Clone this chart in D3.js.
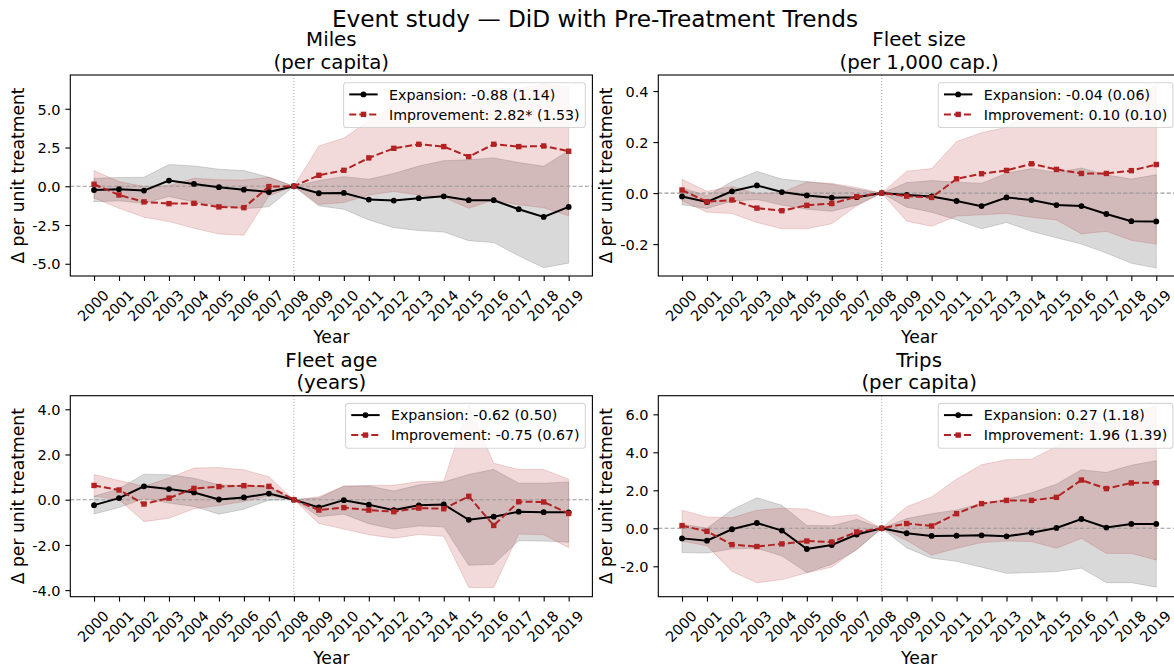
<!DOCTYPE html>
<html>
<head>
<meta charset="utf-8">
<script src="https://cdn.jsdelivr.net/npm/d3@7"></script>
<style>
  body { margin: 0; background: #fff; }
  text { font-family: "DejaVu Sans", sans-serif; }
</style>
</head>
<body>
<svg id="chart" width="1174" height="668"></svg>
<script>
// ---- data -------------------------------------------------------------
const years = [2000, 2001, 2002, 2003, 2004, 2005, 2006, 2007, 2008, 2009,
               2010, 2011, 2012, 2013, 2014, 2015, 2016, 2017, 2018, 2019];
const treatYear = 2008;

// Miles (per capita)
const milesExp   = [-0.24, -0.19, -0.28, 0.37, 0.15, -0.06, -0.22, -0.37, 0, -0.45, -0.43, -0.86, -0.92, -0.77, -0.65, -0.90, -0.90, -1.48, -1.98, -1.33];
const milesExpLo = [-1.00, -0.94, -1.10, -0.66, -1.01, -1.22, -1.45, -1.32, 0, -1.27, -1.48, -2.17, -2.67, -2.86, -2.95, -3.51, -3.63, -4.49, -5.25, -4.96];
const milesExpHi = [0.52, 0.56, 0.58, 1.40, 1.31, 1.10, 1.01, 0.58, 0, 0.37, 0.62, 0.45, 0.83, 1.30, 1.65, 1.71, 1.83, 1.53, 1.29, 2.30];
const milesImp   = [0.13, -0.56, -1.01, -1.12, -1.10, -1.33, -1.38, -0.02, 0, 0.71, 1.03, 1.83, 2.45, 2.71, 2.56, 1.91, 2.71, 2.56, 2.60, 2.26];
const milesImpLo = [-0.75, -1.42, -2.00, -2.28, -2.71, -3.08, -3.16, -0.62, 0, -1.18, -1.05, -0.56, -0.34, -0.56, -0.71, -1.42, -0.88, -1.20, -1.38, -1.91];
const milesImpHi = [1.01, 0.30, -0.02, 0.04, 0.51, 0.42, 0.40, 0.58, 0, 2.60, 3.11, 4.22, 5.24, 5.98, 5.83, 5.24, 6.30, 6.32, 6.58, 6.43];

// Fleet size (per 1,000 cap.)
const fleetExp   = [-0.013, -0.035, 0.007, 0.030, 0.004, -0.009, -0.018, -0.016, 0, -0.007, -0.013, -0.031, -0.051, -0.017, -0.027, -0.047, -0.051, -0.082, -0.110, -0.111];
const fleetExpLo = [-0.046, -0.060, -0.031, -0.025, -0.047, -0.063, -0.071, -0.047, 0, -0.055, -0.075, -0.105, -0.140, -0.115, -0.150, -0.175, -0.200, -0.235, -0.275, -0.294];
const fleetExpHi = [0.020, -0.010, 0.045, 0.085, 0.055, 0.045, 0.035, 0.015, 0, 0.041, 0.049, 0.043, 0.038, 0.078, 0.096, 0.081, 0.098, 0.071, 0.055, 0.072];
const fleetImp   = [0.012, -0.034, -0.027, -0.059, -0.069, -0.048, -0.041, -0.014, 0, -0.012, -0.017, 0.056, 0.076, 0.089, 0.115, 0.093, 0.077, 0.077, 0.088, 0.112];
const fleetImpLo = [-0.030, -0.075, -0.080, -0.115, -0.140, -0.140, -0.120, -0.050, 0, -0.110, -0.130, -0.090, -0.085, -0.080, -0.095, -0.105, -0.160, -0.150, -0.185, -0.200];
const fleetImpHi = [0.054, 0.007, 0.026, -0.003, 0.002, 0.044, 0.038, 0.022, 0, 0.086, 0.096, 0.202, 0.237, 0.258, 0.325, 0.291, 0.314, 0.304, 0.361, 0.424];

// Fleet age (years)
const ageExp   = [-0.24, 0.07, 0.59, 0.47, 0.32, 0.01, 0.10, 0.27, 0, -0.34, -0.02, -0.22, -0.46, -0.25, -0.21, -0.89, -0.75, -0.53, -0.55, -0.56];
const ageExpLo = [-0.63, -0.35, 0.05, -0.15, -0.30, -0.64, -0.42, -0.02, 0, -0.75, -0.64, -1.06, -1.30, -1.16, -1.20, -2.90, -2.86, -1.81, -1.83, -1.88];
const ageExpHi = [0.15, 0.49, 1.13, 1.10, 0.95, 0.66, 0.62, 0.56, 0, 0.07, 0.60, 0.61, 0.38, 0.65, 0.78, 1.12, 1.34, 0.73, 0.73, 0.78];
const ageImp   = [0.63, 0.43, -0.19, 0.07, 0.50, 0.58, 0.62, 0.59, 0, -0.46, -0.35, -0.46, -0.53, -0.37, -0.40, 0.15, -1.14, -0.09, -0.10, -0.61];
const ageImpLo = [0.15, 0.01, -0.97, -0.82, -0.40, -0.26, -0.08, 0.16, 0, -1.05, -1.30, -1.55, -1.70, -1.54, -1.62, -3.88, -3.89, -1.52, -1.55, -2.12];
const ageImpHi = [1.11, 0.85, 0.59, 0.96, 1.40, 1.42, 1.32, 1.02, 0, 0.13, 0.60, 0.63, 0.64, 0.80, 0.82, 4.18, 1.61, 1.34, 1.34, 0.90];

// Trips (per capita)
const tripsExp   = [-0.53, -0.65, -0.05, 0.28, -0.12, -1.09, -0.88, -0.33, 0, -0.26, -0.40, -0.39, -0.37, -0.42, -0.23, 0.02, 0.49, 0.04, 0.23, 0.23];
const tripsExpLo = [-1.28, -1.30, -1.08, -1.05, -1.45, -2.33, -1.89, -1.13, 0, -1.03, -1.57, -1.74, -2.05, -2.37, -2.33, -2.28, -2.10, -2.86, -2.86, -3.10];
const tripsExpHi = [0.22, 0.00, 0.98, 1.61, 1.21, 0.15, 0.13, 0.47, 0, 0.51, 0.77, 0.96, 1.31, 1.53, 1.87, 2.32, 3.08, 2.94, 3.32, 3.56];
const tripsImp   = [0.14, -0.16, -0.86, -0.96, -0.82, -0.67, -0.72, -0.19, 0, 0.25, 0.12, 0.77, 1.30, 1.47, 1.47, 1.63, 2.54, 2.09, 2.39, 2.40];
const tripsImpLo = [-0.67, -0.92, -2.27, -2.87, -2.70, -2.35, -2.04, -1.10, 0, -0.64, -1.41, -1.05, -0.75, -0.67, -0.70, -1.05, -0.53, -1.32, -1.32, -1.67];
const tripsImpHi = [0.95, 0.60, 0.55, 0.95, 1.06, 1.01, 0.60, 0.72, 0, 1.14, 1.65, 2.59, 3.35, 3.61, 3.64, 4.31, 5.61, 5.50, 6.10, 6.47];

// tick values and axis ranges
const milesTicks = [-5, -2.5, 0, 2.5, 5];
const fleetTicks = [-0.2, 0, 0.2, 0.4];
const ageTicks   = [-4, -2, 0, 2, 4];
const tripsTicks = [-2, 0, 2, 4, 6];
const milesRange = [-5.79, 7.18];
const fleetRange = [-0.325, 0.463];
const ageRange   = [-4.29, 4.6];
const tripsRange = [-3.6, 6.98];

// titles and legend labels
const suptitle = "Event study \u2014 DiD with Pre-Treatment Trends";
const panelTitles = [["Miles", "(per capita)"], ["Fleet size", "(per 1,000 cap.)"],
                     ["Fleet age", "(years)"], ["Trips", "(per capita)"]];
const legendLabels = [
  ["Expansion: -0.88 (1.14)", "Improvement: 2.82* (1.53)"],
  ["Expansion: -0.04 (0.06)", "Improvement: 0.10 (0.10)"],
  ["Expansion: -0.62 (0.50)", "Improvement: -0.75 (0.67)"],
  ["Expansion: 0.27 (1.18)", "Improvement: 1.96 (1.39)"]
];
const yLabel = "\u0394 per unit treatment";
const xLabel = "Year";

// ---- layout -----------------------------------------------------------
const panels = [
  { exp: milesExp, expLo: milesExpLo, expHi: milesExpHi, imp: milesImp, impLo: milesImpLo, impHi: milesImpHi, range: milesRange, ticks: milesTicks },
  { exp: fleetExp, expLo: fleetExpLo, expHi: fleetExpHi, imp: fleetImp, impLo: fleetImpLo, impHi: fleetImpHi, range: fleetRange, ticks: fleetTicks },
  { exp: ageExp, expLo: ageExpLo, expHi: ageExpHi, imp: ageImp, impLo: ageImpLo, impHi: ageImpHi, range: ageRange, ticks: ageTicks },
  { exp: tripsExp, expLo: tripsExpLo, expHi: tripsExpHi, imp: tripsImp, impLo: tripsImpLo, impHi: tripsImpHi, range: tripsRange, ticks: tripsTicks }
];
const cols = [[70.3, 592.4], [658.3, 1180]];
const rows = [[75, 276], [395.7, 596.7]];

const RED = "#b22222";
const GREY = "#808080";
const TICK = 4.9, PAD = 4.9;
const TICK_FONT = 14.5;
const fmt = d3.formatLocale({ decimal: ".", thousands: ",", grouping: [3], currency: ["", ""], minus: "-" }).format(".1f");

const svg = d3.select("#chart");
svg.append("rect").attr("width", 1174).attr("height", 668).attr("fill", "#fff");
const defs = svg.append("defs");

svg.append("text")
  .attr("x", 595).attr("y", 26.5)
  .attr("text-anchor", "middle")
  .attr("font-size", 23.2)
  .attr("fill", "#000")
  .text(suptitle);

panels.forEach((p, i) => {
  const [x0, x1] = cols[i % 2];
  const [y0, y1] = rows[Math.floor(i / 2)];
  const x = d3.scaleLinear().domain([1999.05, 2019.95]).range([x0, x1]);
  const y = d3.scaleLinear().domain(p.range).range([y1, y0]);

  const g = svg.append("g");
  const clipId = "clip-" + i;
  defs.append("clipPath").attr("id", clipId)
    .append("rect").attr("x", x0).attr("y", y0).attr("width", x1 - x0).attr("height", y1 - y0);
  const plot = g.append("g").attr("clip-path", `url(#${clipId})`);

  const band = (lo, hi) => d3.area()
    .x((d, j) => x(years[j]))
    .y0((d, j) => y(lo[j]))
    .y1((d, j) => y(hi[j]));
  const line = d3.line().x((d, j) => x(years[j])).y(d => y(d));

  // confidence bands
  plot.append("path").datum(p.expLo).attr("d", band(p.expLo, p.expHi))
    .attr("fill", GREY).attr("fill-opacity", 0.3)
    .attr("stroke", GREY).attr("stroke-opacity", 0.3).attr("stroke-width", 1);
  plot.append("path").datum(p.impLo).attr("d", band(p.impLo, p.impHi))
    .attr("fill", RED).attr("fill-opacity", 0.17)
    .attr("stroke", RED).attr("stroke-opacity", 0.17).attr("stroke-width", 1);

  // reference lines
  plot.append("line")
    .attr("x1", x0).attr("x2", x1).attr("y1", y(0)).attr("y2", y(0))
    .attr("stroke", "#999").attr("stroke-width", 1.1).attr("stroke-dasharray", "4,2.2");
  plot.append("line")
    .attr("x1", x(treatYear)).attr("x2", x(treatYear)).attr("y1", y0).attr("y2", y1)
    .attr("stroke", "#aaa").attr("stroke-width", 1.1).attr("stroke-dasharray", "1.1,1.9");

  // expansion series
  plot.append("path").datum(p.exp).attr("d", line)
    .attr("fill", "none").attr("stroke", "#000").attr("stroke-width", 2);
  plot.selectAll(".dot-exp").data(p.exp).join("circle")
    .attr("class", "dot-exp")
    .attr("cx", (d, j) => x(years[j])).attr("cy", d => y(d)).attr("r", 2.9)
    .attr("fill", "#000");

  // improvement series
  plot.append("path").datum(p.imp).attr("d", line)
    .attr("fill", "none").attr("stroke", RED).attr("stroke-width", 2)
    .attr("stroke-dasharray", "7,3");
  const sq = 5.4;
  plot.selectAll(".dot-imp").data(p.imp).join("rect")
    .attr("class", "dot-imp")
    .attr("x", (d, j) => x(years[j]) - sq / 2).attr("y", d => y(d) - sq / 2)
    .attr("width", sq).attr("height", sq)
    .attr("fill", RED);

  // axes
  const xAxis = g.append("g").attr("transform", `translate(0,${y1})`)
    .call(d3.axisBottom(x).tickValues(years).tickFormat(d3.format("d")).tickSize(TICK).tickSizeOuter(0));
  xAxis.select(".domain").remove();
  xAxis.selectAll(".tick line").attr("stroke", "#000").attr("stroke-width", 1.1);
  xAxis.selectAll(".tick text")
    .attr("font-family", "DejaVu Sans").attr("font-size", TICK_FONT).attr("fill", "#000")
    .attr("x", 0).attr("y", 0).attr("dy", "0.36em")
    .attr("text-anchor", "middle")
    .attr("transform", "translate(-1.5,29.5) rotate(-45)");

  const yAxis = g.append("g").attr("transform", `translate(${x0},0)`)
    .call(d3.axisLeft(y).tickValues(p.ticks).tickFormat(fmt).tickSize(TICK).tickPadding(PAD).tickSizeOuter(0));
  yAxis.select(".domain").remove();
  yAxis.selectAll(".tick line").attr("stroke", "#000").attr("stroke-width", 1.1);
  yAxis.selectAll(".tick text")
    .attr("font-family", "DejaVu Sans").attr("font-size", TICK_FONT).attr("fill", "#000")
    .attr("dy", "0.36em");

  let minX = x0;
  yAxis.selectAll(".tick text").each(function () {
    const w = this.getComputedTextLength();
    minX = Math.min(minX, x0 - TICK - PAD - w);
  });

  // frame
  g.append("rect")
    .attr("x", x0).attr("y", y0).attr("width", x1 - x0).attr("height", y1 - y0)
    .attr("fill", "none").attr("stroke", "#000").attr("stroke-width", 1.1);

  // axis labels
  const cx = (x0 + x1) / 2, cy = (y0 + y1) / 2;
  g.append("text")
    .attr("transform", `translate(${minX - 8.5},${cy}) rotate(-90)`)
    .attr("text-anchor", "middle").attr("font-size", 17.2).attr("fill", "#000")
    .text(yLabel);
  g.append("text")
    .attr("x", cx).attr("y", y1 + 67)
    .attr("text-anchor", "middle").attr("font-size", 17.2).attr("fill", "#000")
    .text(xLabel);

  // panel title (two lines)
  const [t1, t2] = panelTitles[i];
  g.append("text").attr("x", cx).attr("y", y0 - 29)
    .attr("text-anchor", "middle").attr("font-size", 19.8).attr("fill", "#000").text(t1);
  g.append("text").attr("x", cx).attr("y", y0 - 6.5)
    .attr("text-anchor", "middle").attr("font-size", 19.8).attr("fill", "#000").text(t2);

  // legend
  const fs = 14.2;
  const lg = g.append("g");
  const frame = lg.append("rect");
  const labels = legendLabels[i];
  const items = [
    { label: labels[0], color: "#000", dash: null, marker: "circle" },
    { label: labels[1], color: RED, dash: "7,3", marker: "square" }
  ];
  const texts = items.map(it => lg.append("text").attr("font-size", fs).attr("fill", "#000").text(it.label));
  const tw = d3.max(texts, t => t.node().getComputedTextLength());
  const lw = 0.4 * fs + 2 * fs + 0.8 * fs + tw + 0.4 * fs;
  const lh = 44.8;
  const lx = x1 - 0.5 * fs - lw, ly = y0 + 7.7;
  frame.attr("x", lx).attr("y", ly).attr("width", lw).attr("height", lh)
    .attr("rx", 2.8).attr("ry", 2.8)
    .attr("fill", "#fff").attr("fill-opacity", 0.8)
    .attr("stroke", "#ccc").attr("stroke-opacity", 0.8).attr("stroke-width", 1.1);
  items.forEach((it, k) => {
    const ry = ly + 11.7 + 20 * k;
    const hx0 = lx + 0.4 * fs, hx1 = hx0 + 2 * fs, hm = (hx0 + hx1) / 2;
    const l = lg.append("line").attr("x1", hx0).attr("x2", hx1).attr("y1", ry).attr("y2", ry)
      .attr("stroke", it.color).attr("stroke-width", 2);
    if (it.dash) l.attr("stroke-dasharray", it.dash);
    if (it.marker === "circle") {
      lg.append("circle").attr("cx", hm).attr("cy", ry).attr("r", 2.9).attr("fill", it.color);
    } else {
      lg.append("rect").attr("x", hm - sq / 2).attr("y", ry - sq / 2).attr("width", sq).attr("height", sq).attr("fill", it.color);
    }
    texts[k].attr("x", hx1 + 0.8 * fs).attr("y", ry).attr("dy", "0.36em");
  });
});
</script>
</body>
</html>
